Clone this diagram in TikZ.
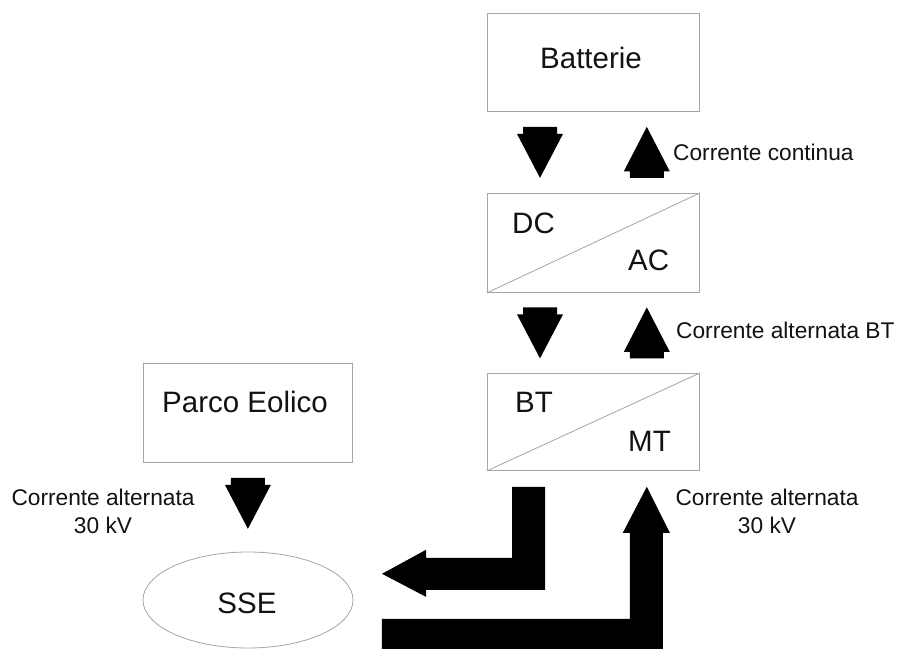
\documentclass[tikz,border=0pt]{standalone}
\usepackage{fontspec}
\setmainfont{Liberation Sans}
\usetikzlibrary{shapes.geometric,calc}
\definecolor{boxgray}{RGB}{165,165,165}
\definecolor{ink}{RGB}{18,18,18}
\begin{document}
\begin{tikzpicture}[x=1pt,y=-1pt,
  boxline/.style={draw=boxgray, line width=0.8pt},
  blk/.style={boxline, rectangle, inner sep=0pt, anchor=north west},
  bigtxt/.style={font=\fontsize{29.5}{34}\selectfont, text=ink, inner sep=0pt},
  smalltxt/.style={font=\fontsize{22.7}{27.5}\selectfont, text=ink, inner sep=0pt, align=center},
  downblk/.pic={\fill[black] (-17,-25.5) -- (17,-25.5) -- (17,-18.5) -- (23,-18.5) -- (0,25.5) -- (-23,-18.5) -- (-17,-18.5) -- cycle;},
  upblk/.pic={\fill[black] (0,-25.5) -- (23,19) -- (17,19) -- (17,25.5) -- (-17,25.5) -- (-17,19) -- (-23,19) -- cycle;}
]
\useasboundingbox (0,0) rectangle (897,648);

% boxes
\node[blk, minimum width=212pt, minimum height=98pt] (bat) at (487,13) {};
\node[blk, minimum width=212pt, minimum height=99pt] (dcac) at (487,193) {};
\node[blk, minimum width=212pt, minimum height=97pt] (btmt) at (487,373) {};
\node[blk, minimum width=209pt, minimum height=99pt] (parco) at (143,363) {};
\node[boxline, ellipse, minimum width=210pt, minimum height=96pt, inner sep=0pt] (sse) at (248,600) {};

\draw[boxline] (dcac.south west) -- (dcac.north east);
\draw[boxline] (btmt.south west) -- (btmt.north east);

% texts
\node[bigtxt, anchor=base] (tbat) at (591,68) {Batterie};
\node[bigtxt, anchor=base west] (tdc) at (512,233) {DC};
\node[bigtxt, anchor=base west] (tac) at (628,270) {AC};
\node[bigtxt, anchor=base west] (tbt) at (515,412) {BT};
\node[bigtxt, anchor=base west] (tmt) at (628,451) {MT};
\node[bigtxt, anchor=base] (tparco) at (245,412) {Parco Eolico};
\node[bigtxt, anchor=base] (tsse) at (247,613) {SSE};

\node[smalltxt, anchor=base west] (lcc) at (673,160) {Corrente continua};
\node[smalltxt, anchor=base west] (lbt) at (676,338) {Corrente alternata BT};
\node[smalltxt, anchor=north] (lr) at (767,489) {Corrente alternata\\30 kV};
\node[smalltxt, anchor=north] (ll) at (103,489) {Corrente alternata\\30 kV};

% small block arrows
\pic at ($(bat.south west)!0.5!(dcac.north west)+(53,0)$) {downblk};
\pic at ($(bat.south east)!0.5!(dcac.north east)+(-53,0)$) {upblk};
\pic at ($(dcac.south west)!0.5!(btmt.north west)+(53,0)$) {downblk};
\pic at ($(dcac.south east)!0.5!(btmt.north east)+(-53,0)$) {upblk};
\pic at ($(parco.south)+(0,40.5)$) {downblk};

% big block arrows
\coordinate (a1) at ($(btmt.south west)+(25,16)$);
\fill[black] (a1) -- ++(33,0) -- ++(0,103) -- ++(-119,0) -- ++(0,7) -- ++(-44,-23)
  -- ++(44,-24) -- ++(0,8) -- ++(86,0) -- cycle;
\coordinate (a2) at ($(btmt.south east)+(-53,16)$);
\fill[black] (a2) -- ++(23,46) -- ++(-7,0) -- ++(0,120) -- ++(-281,0) -- ++(0,-34)
  -- ++(248,0) -- ++(0,-86) -- ++(-7,0) -- cycle;
\end{tikzpicture}
\end{document}
